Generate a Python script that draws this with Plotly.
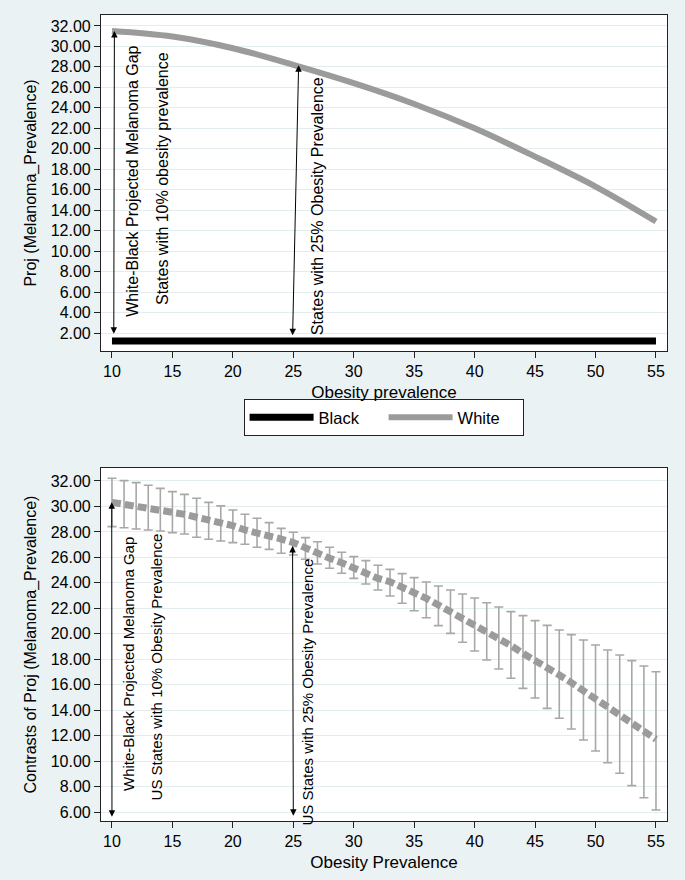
import plotly.graph_objects as go

# ---------------- data ----------------
# Top panel: projected melanoma prevalence by obesity prevalence
obesity_top = [10, 15, 20, 25, 30, 35, 40, 45, 50, 55]
white_proj = [31.5, 30.96, 29.82, 28.2, 26.41, 24.38, 22.0, 19.24, 16.31, 12.9]
black_proj = [1.22, 1.22, 1.22, 1.22, 1.22, 1.22, 1.22, 1.22, 1.22, 1.22]

# Bottom panel: White-Black contrast with 95% CI, obesity 10..55
obesity_bot = list(range(10, 56))
contrast = [30.32, 30.17, 30.06, 29.91, 29.77, 29.54, 29.38, 29.15, 28.94, 28.75,
            28.49, 28.15, 27.94, 27.68, 27.44, 27.16, 26.71, 26.32, 25.93, 25.58,
            25.14, 24.75, 24.35, 24.09, 23.70, 23.25, 22.78, 22.26, 21.74, 21.21,
            20.69, 20.16, 19.64, 19.07, 18.46, 17.94, 17.36, 16.76, 16.16, 15.53,
            14.93, 14.27, 13.62, 12.96, 12.39, 11.71]
ci_upper = [32.21, 32.03, 31.87, 31.66, 31.42, 31.16, 30.95, 30.64, 30.32, 30.04,
            29.72, 29.38, 29.07, 28.73, 28.28, 27.97, 27.55, 27.23, 26.79, 26.40,
            26.06, 25.74, 25.38, 25.06, 24.72, 24.41, 24.07, 23.75, 23.44, 23.12,
            22.81, 22.44, 22.10, 21.74, 21.42, 21.03, 20.66, 20.30, 19.93, 19.51,
            19.12, 18.72, 18.33, 17.89, 17.47, 17.02]
ci_lower = [28.41, 28.33, 28.23, 28.15, 28.07, 27.94, 27.84, 27.58, 27.42, 27.29,
            27.16, 27.03, 26.79, 26.63, 26.32, 26.19, 25.85, 25.48, 25.14, 24.75,
            24.35, 23.91, 23.44, 22.97, 22.39, 21.81, 21.26, 20.64, 20.03, 19.33,
            18.65, 17.94, 17.23, 16.50, 15.71, 14.95, 14.14, 13.36, 12.52, 11.65,
            10.79, 9.87, 9.04, 8.07, 7.12, 6.16]

x_ticks = [10, 15, 20, 25, 30, 35, 40, 45, 50, 55]
y_ticks_top = list(range(2, 33, 2))
y_ticks_bot = list(range(6, 33, 2))

# ---------------- style ----------------
FONT = "Liberation Sans, Arial, Helvetica, sans-serif"
BG = "#EAF2F3"
GRID = "#E3ECEF"
GRAY = "#9B9B9B"
ERR = "#A8A8A8"

fig = go.Figure()

fig.add_trace(go.Scatter(x=obesity_top, y=black_proj, mode="lines", name="Black",
                         line=dict(color="black", width=7), xaxis="x", yaxis="y"))
fig.add_trace(go.Scatter(x=obesity_top, y=white_proj, mode="lines", name="White",
                         line=dict(color=GRAY, width=6, shape="spline"), xaxis="x", yaxis="y"))

err_plus = [u - c for u, c in zip(ci_upper, contrast)]
err_minus = [c - l for c, l in zip(contrast, ci_lower)]
fig.add_trace(go.Scatter(x=obesity_bot, y=contrast, mode="markers", showlegend=False,
                         marker=dict(size=0.1, color=ERR, opacity=0),
                         error_y=dict(type="data", array=err_plus, arrayminus=err_minus,
                                      color=ERR, thickness=1.6, width=4.5),
                         xaxis="x2", yaxis="y2"))
fig.add_trace(go.Scatter(x=obesity_bot, y=contrast, mode="lines", showlegend=False,
                         line=dict(color=GRAY, width=7, dash="9px,4px"),
                         xaxis="x2", yaxis="y2"))

axis_common = dict(showline=True, linecolor="#222", linewidth=1, mirror=True,
                   ticks="outside", ticklen=6, tickcolor="#222", tickwidth=1,
                   tickfont=dict(family=FONT, size=16, color="black"),
                   zeroline=False)

fig.update_layout(
    width=685, height=880,
    margin=dict(l=0, r=0, t=0, b=0),
    paper_bgcolor=BG, plot_bgcolor="white",
    font=dict(family=FONT, color="black"),
    showlegend=True,
    legend=dict(orientation="h", x=0.56, xanchor="center", y=0.5256, yanchor="middle",
                bgcolor="white", bordercolor="#222", borderwidth=1,
                font=dict(family=FONT, size=16.5), itemwidth=64,
                entrywidth=60, entrywidthmode="pixels"),
    xaxis=dict(domain=[0.1474, 0.9737], range=[9.09, 55.91], tickvals=x_ticks,
               showgrid=False, anchor="y",
               title=dict(text="Obesity prevalence", font=dict(size=17), standoff=6),
               **axis_common),
    yaxis=dict(domain=[0.6011, 0.983], range=[0.25, 33.07], tickvals=y_ticks_top,
               tickformat=".2f", showgrid=True, gridcolor=GRID, gridwidth=1, anchor="x",
               title=dict(text="Proj (Melanoma_Prevalence)", font=dict(size=16), standoff=10),
               **axis_common),
    xaxis2=dict(domain=[0.1474, 0.9737], range=[9.09, 55.91], tickvals=x_ticks,
                showgrid=False, anchor="y2",
                title=dict(text="Obesity Prevalence", font=dict(size=17), standoff=6),
                **axis_common),
    yaxis2=dict(domain=[0.067, 0.4682], range=[5.29, 33.02], tickvals=y_ticks_bot,
                tickformat=".2f", showgrid=True, gridcolor=GRID, gridwidth=1, anchor="x2",
                title=dict(text="Contrasts of Proj (Melanoma_Prevalence)", font=dict(size=16), standoff=10),
                **axis_common),
)

# Double-headed arrows (gap markers)
def arrow(xr, yr, x0, y0, x1, y1):
    fig.add_annotation(x=x1, y=y1, ax=x0, ay=y0, xref=xr, yref=yr, axref=xr, ayref=yr,
                       showarrow=True, arrowside="end+start", arrowhead=2,
                       arrowsize=1.3, arrowwidth=1, arrowcolor="black", text="")

arrow("x", "y", 10.15, 1.8, 10.2, 31.5)
arrow("x", "y", 24.94, 1.64, 25.44, 28.16)
arrow("x2", "y2", 10.0, 5.5, 9.98, 30.33)
arrow("x2", "y2", 25.0, 5.58, 24.94, 26.89)

def vtext(xr, yr, x, y, text, size):
    fig.add_annotation(x=x, y=y, xref=xr, yref=yr, text=text, textangle=-90,
                       showarrow=False, xanchor="center", yanchor="middle",
                       font=dict(family=FONT, size=size, color="black"))

vtext("x", "y", 11.63, 16.85, "White-Black Projected Melanoma Gap", 16)
vtext("x", "y", 14.13, 17.14, "States with 10% obesity prevalence", 16)
vtext("x", "y", 26.96, 14.4, "States with 25% Obesity Prevalence", 16)
vtext("x2", "y2", 11.32, 17.62, "White-Black Projected Melanoma Gap", 15)
vtext("x2", "y2", 13.72, 17.43, "US States with 10% Obesity Prevalence", 15)
vtext("x2", "y2", 26.21, 15.46, "US States with 25% Obesity Prevalence", 15)

fig.write_html("out.html",
               config={"displayModeBar": False},
               post_script="document.body.style.margin='0';"
                           "document.body.style.background='#EAF2F3';")
